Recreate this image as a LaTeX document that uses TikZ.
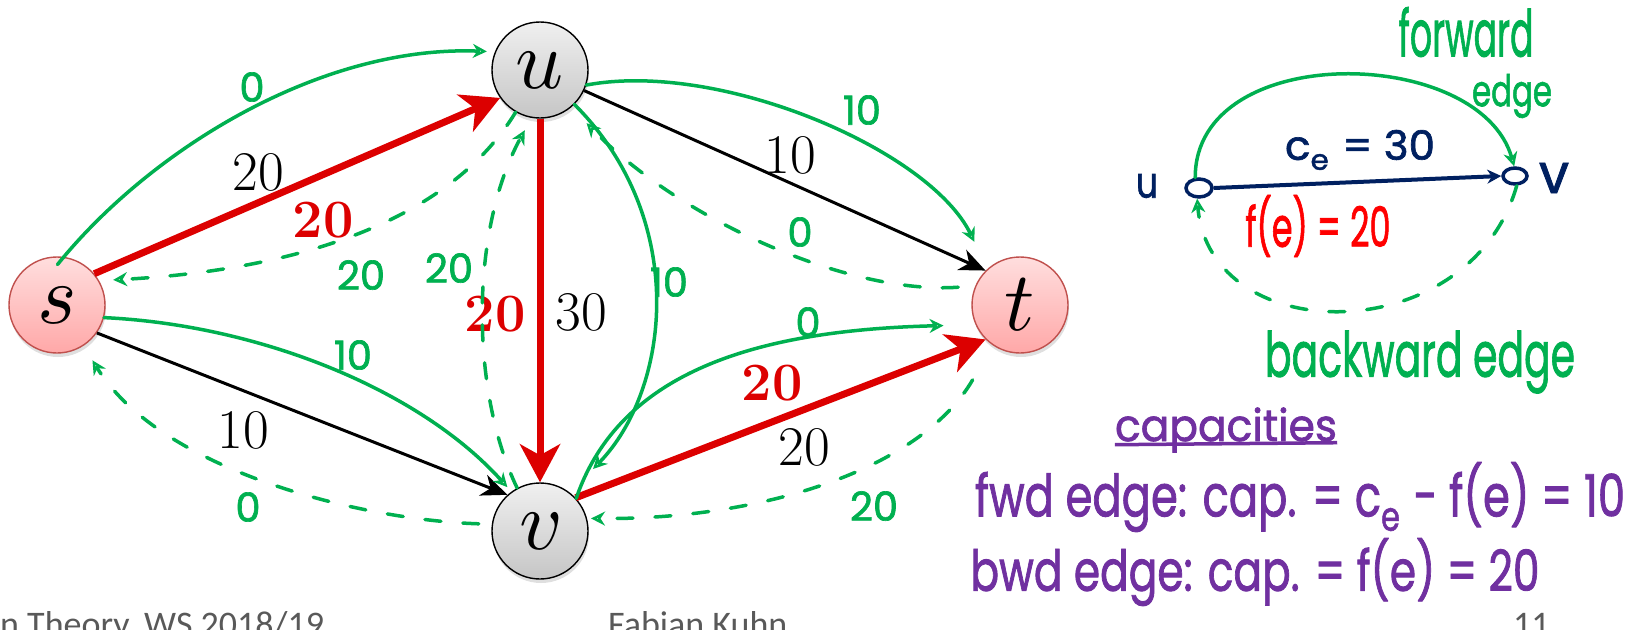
\documentclass[tikz,border=0pt]{standalone}
\usepackage{fontspec}
\usepackage{unicode-math}
\setmathfont{Latin Modern Math}
\usepackage{graphicx}
\usetikzlibrary{arrows.meta,shadows,shapes.geometric}
\newfontfamily\hand{Poppins}[FakeBold=1.6]
\newfontfamily\foot{Carlito}
\definecolor{gcol}{RGB}{0,176,80}
\definecolor{pcol}{RGB}{112,48,160}
\definecolor{ncol}{RGB}{0,32,96}
\definecolor{rcol}{RGB}{220,0,0}
\definecolor{hred}{RGB}{255,0,0}
\definecolor{pinkbd}{RGB}{192,80,77}
\definecolor{footgray}{RGB}{89,89,89}
\newcommand{\hw}[3]{\resizebox*{#1pt}{#2pt}{\hand #3}}
\begin{document}
\begin{tikzpicture}[x=1pt,y=-1pt,
  vtx/.style={circle,draw=black,line width=1.4pt,minimum size=96pt,inner sep=0pt,
    top color=gray!12,bottom color=gray!45,
    drop shadow={shadow xshift=1pt,shadow yshift=-4pt,opacity=0.25},
    font=\fontsize{84}{84}\selectfont},
  stvtx/.style={vtx,draw=pinkbd,top color={rgb,255:red,255;green,222;blue,222},
    bottom color={rgb,255:red,255;green,168;blue,168}},
  redge/.style={draw=rcol,line width=7pt,-{Stealth[length=38pt,width=40pt,inset=11pt]}},
  bedge/.style={draw=black,line width=3pt,-{Stealth[length=26pt,width=22pt,inset=8pt]}},
  blab/.style={font=\fontsize{56}{56}\selectfont,inner sep=0pt},
  rlab/.style={font=\fontsize{54}{54}\selectfont\bfseries,text=rcol,inner sep=0pt},
  gsolid/.style={draw=gcol,line width=3.5pt,line cap=round,-{Stealth[open,length=14pt,width=14pt]}},
  gdash/.style={gsolid,dash pattern=on 16pt off 22pt},
  glab/.style={font=\hand\fontsize{40}{40}\selectfont,text=gcol,inner sep=0pt},
  hnote/.style={inner sep=0pt},
  footer/.style={font=\foot\fontsize{36}{36}\selectfont,text=footgray,inner sep=0pt,anchor=base west}
]
\useasboundingbox (0,0) rectangle (1637,629);

% vertices
\node[stvtx] (s) at (57,305) {$s$};
\node[vtx] (u) at (540,70) {$u$};
\node[stvtx] (t) at (1020,305) {$t$};
\node[vtx] (v) at (540,531) {$v$};

% original edges
\draw[redge] (s.40) -- (u.215);
\draw[bedge] (s.-35) -- (v.132);
\draw[redge] (u.south) -- (v.north);
\draw[bedge] (u.-25) -- (t.135);
\draw[redge] (v.43) -- (t.225);

% edge labels
\node[blab] (l1) at (258,172) {20};
\node[rlab] (l2) at (323,220) {20};
\node[blab] (l3) at (243,430) {10};
\node[rlab] (l4) at (495,314) {20};
\node[blab] (l5) at (581,312) {30};
\node[blab] (l6) at (790,155) {10};
\node[rlab] (l7) at (772,383) {20};
\node[blab] (l8) at (804,447) {20};

% residual forward edges
\draw[gsolid,shorten >=8pt,shorten <=-10pt] (s.82) .. controls (150,150) and (320,45) .. (u.158);
\draw[gsolid,shorten >=6pt] (s.-15) .. controls (260,325) and (420,390) .. (v.126);
\draw[gsolid,shorten >=30pt] (u.-18) .. controls (720,60) and (930,150) .. (t.132);
\draw[gsolid,shorten >=33pt] (u.-45) .. controls (690,220) and (670,390) .. (v.52);
\draw[gsolid,shorten >=32pt] (v.42) .. controls (620,370) and (760,330) .. (t.204);

% residual backward edges
\draw[gdash,shorten >=14pt] (u.-120) .. controls (450,220) and (300,270) .. (s.30);
\draw[gdash,shorten >=14pt] (v.118) .. controls (470,390) and (470,230) .. (u.-100);
\draw[gdash,shorten >=17pt,shorten <=13pt] (v.172) .. controls (360,520) and (160,470) .. (s.-57);
\draw[gdash,shorten >=22pt,shorten <=17pt] (t.157) .. controls (850,295) and (680,220) .. (u.-50);
\draw[gdash,shorten >=4pt,shorten <=40pt] (t.236) .. controls (920,470) and (760,520) .. (v.15);

% residual capacities
\node[glab] (g1) at (252,87) {0};
\node[glab] (g2) at (361,275) {20};
\node[glab] (g3) at (449,268) {20};
\node[glab] (g4) at (353,355) {10};
\node[glab] (g5) at (248,507) {0};
\node[glab] (g6) at (862,110) {10};
\node[glab] (g7) at (800,232) {0};
\node[glab] (g8) at (669,282) {10};
\node[glab] (g9) at (808,322) {0};
\node[glab] (g10) at (874,506) {20};

% explanation (right)
\node[ellipse,draw=ncol,line width=3.5pt,minimum width=26pt,minimum height=18pt,inner sep=0pt] (uc) at (1199,188) {};
\node[ellipse,draw=ncol,line width=3.5pt,minimum width=24pt,minimum height=16pt,inner sep=0pt] (vc) at (1515,176) {};
\draw[draw=ncol,line width=4pt,-{Stealth[length=14pt,width=14pt]}] (uc.east) -- (vc.west);
\node[hnote,text=ncol] (un) at (1147,186) {\hw{22}{24}{u}};
\node[hnote,text=ncol] (vn) at (1554,178) {\hw{30}{30}{v}};
\node[hnote,text=ncol] (ce) at (1360,150) {\hw{150}{40}{c\textsubscript{e} = 30}};
\node[hnote,text=hred] (fe) at (1318,226) {\hw{145}{62}{f(e) = 20}};
\draw[gsolid] (uc.110) .. controls (1195,40) and (1480,45) .. (vc.95);
\draw[gdash] (vc.-80) .. controls (1470,350) and (1210,350) .. (uc.-100);
\node[hnote,text=gcol] (fw) at (1466,32) {\hw{135}{50}{forward}};
\node[hnote,text=gcol] (fe2) at (1512,96) {\hw{80}{44}{edge}};
\node[hnote,text=gcol] (bw) at (1420,362) {\hw{310}{63}{backward edge}};

\node[hnote,text=pcol] (cap) at (1226,430) {\hw{222}{45}{capacities}};
\draw[draw=pcol,line width=3.5pt] ([yshift=8pt]cap.south west) -- ([yshift=10pt]cap.south east);
\node[hnote,text=pcol] (fwd) at (1300,497) {\hw{650}{70}{fwd edge: cap. = c\textsubscript{e} - f(e) = 10}};
\node[hnote,text=pcol] (bwd) at (1255,572) {\hw{569}{68}{bwd edge: cap. = f(e) = 20}};

% footer
\node[footer] (f1) at (0,636) {n Theory, WS 2018/19};
\node[footer] (f2) at (608,636) {Fabian Kuhn};
\node[footer] (f3) at (1513,636) {11};
\end{tikzpicture}
\end{document}
